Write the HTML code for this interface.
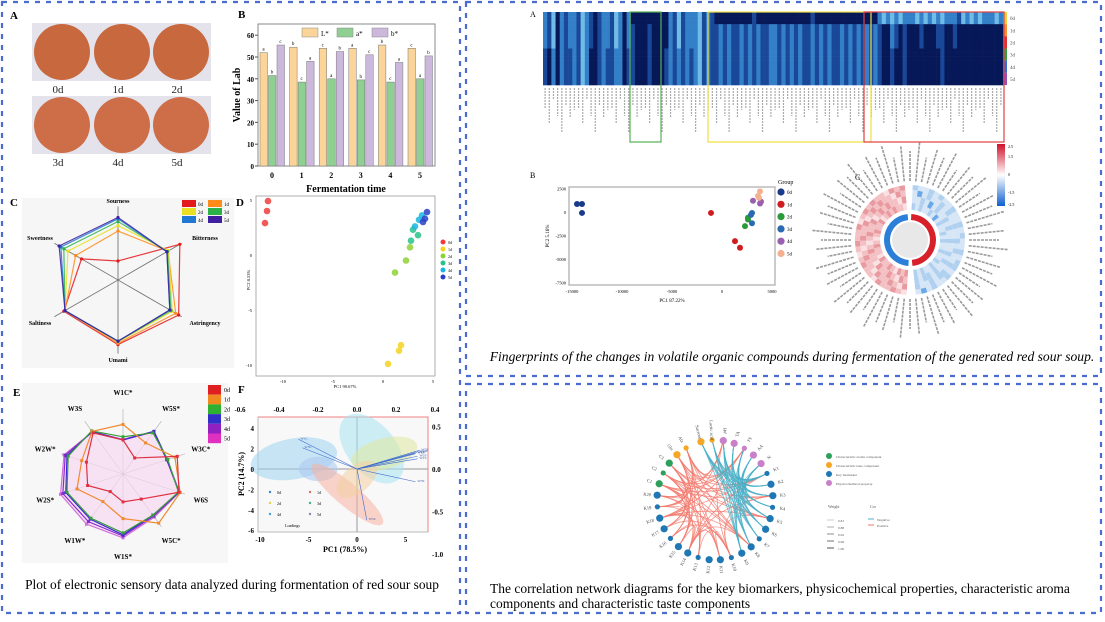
<!DOCTYPE html>
<html><head><meta charset="utf-8">
<style>
html,body{margin:0;padding:0;background:#fff;}
svg{display:block;font-family:"Liberation Serif",serif;}
</style></head>
<body>
<svg id="fig" width="1105" height="622" viewBox="0 0 1105 622" xmlns="http://www.w3.org/2000/svg">
<rect x="0" y="0" width="1105" height="622" fill="#fff"/>
<g id="borders" fill="none" stroke="#4a6bd0" stroke-width="2.2" stroke-dasharray="5,6">
  <rect x="2" y="2" width="458" height="611"/>
  <rect x="466" y="2" width="635" height="374"/>
  <rect x="466" y="384" width="635" height="229"/>
</g>

<g>
  <text x="10" y="19" font-size="11" font-weight="bold">A</text>
  <rect x="32" y="23" width="179" height="58" fill="#e4e2ea"/>
  <rect x="32" y="96" width="179" height="58" fill="#e4e2ea"/>
  <g fill="#c7683f">
    <circle cx="62" cy="52" r="28"/><circle cx="122" cy="52" r="28"/><circle cx="181" cy="52" r="28"/>
    <circle cx="62" cy="125" r="28" fill="#cd6e48"/><circle cx="122" cy="125" r="28" fill="#cd6e48"/><circle cx="181" cy="125" r="28" fill="#cd6e48"/>
  </g>
  <g font-size="11" text-anchor="middle" fill="#222">
    <text x="58" y="93">0d</text><text x="118" y="93">1d</text><text x="177" y="93">2d</text>
    <text x="58" y="166">3d</text><text x="118" y="166">4d</text><text x="177" y="166">5d</text>
  </g>
</g>

<g id="panelB"></g>
<g id="panelC"></g>
<g id="panelD"></g>
<g id="panelE"></g>
<g id="panelF"></g>
<text x="232" y="589" font-size="13.4" text-anchor="middle">Plot of electronic sensory data analyzed during formentation of red sour soup</text>

<g id="heat"></g>
<g id="pcaR"></g>
<g id="circ"></g>
<text x="792" y="361" font-size="13.6" font-style="italic" text-anchor="middle">Fingerprints of the changes in volatile organic compounds during fermentation of the generated red sour soup.</text>

<g id="net"></g>
<text x="490" y="593" font-size="13.5">The correlation network diagrams for the key biomarkers, physicochemical properties, characteristic aroma</text>
<text x="490" y="608" font-size="13.5">components and characteristic taste components</text>
</svg>
<script>
const NS="http://www.w3.org/2000/svg";
function mk(tag,attrs,parent){const e=document.createElementNS(NS,tag);for(const k in attrs)e.setAttribute(k,attrs[k]);if(parent)parent.appendChild(e);return e;}
function txt(parent,x,y,s,size,extra){const t=mk('text',Object.assign({x:x,y:y,'font-size':size},extra||{}),parent);t.textContent=s;return t;}

/* ---------- Panel B: Lab bar chart ---------- */
const labDays=["0","1","2","3","4","5"];
const labL=[52,54.5,54,54,55.5,54];
const labA=[41.5,38.5,40,39.5,38.5,40];
const labB=[55.5,48,52.5,51,47.5,50.5];
const labTicks=[0,10,20,30,40,50,60];
(function(){
  const g=document.getElementById('panelB');
  const x0=258,x1=435,yB=166,yT=24;
  const ys=v=>yB-v*2.18;
  const xs=i=>272+i*29.6;
  txt(g,238,18,"B",11,{'font-weight':'bold'});
  mk('rect',{x:x0,y:yT,width:x1-x0,height:yB-yT,fill:'none',stroke:'#888','stroke-width':1},g);
  labTicks.forEach(t=>{txt(g,254,ys(t)+3,String(t),7,{'text-anchor':'end','font-weight':'bold'});mk('line',{x1:x0-3,x2:x0,y1:ys(t),y2:ys(t),stroke:'#555'},g);});
  const series=[[labL,'#fbd49a'],[labA,'#8fcf91'],[labB,'#cdb8dd']];
  labDays.forEach((d,i)=>{
    series.forEach((s,j)=>{
      const v=s[0][i];
      const r=mk('rect',{x:xs(i)-12+j*8.5,y:ys(v),width:7.5,height:yB-ys(v),fill:s[1],stroke:'#777','stroke-width':0.5},g);
      
      
      txt(g,xs(i)-8.5+j*8.5,ys(v)-2,['a','b','c'][(i+j)%3],5,{'text-anchor':'middle'});
    });
    txt(g,xs(i),178,d,8,{'text-anchor':'middle','font-weight':'bold'});
  });
  txt(g,346,192,"Fermentation time",10,{'text-anchor':'middle','font-weight':'bold'});
  txt(g,240,95,"Value of Lab",10,{'text-anchor':'middle','font-weight':'bold',transform:'rotate(-90 240 95)'});
  [['L*','#fbd49a',302],['a*','#8fcf91',337],['b*','#cdb8dd',372]].forEach(l=>{
    mk('rect',{x:l[2],y:28,width:16,height:9,fill:l[1],stroke:'#888','stroke-width':0.5},g);
    txt(g,l[2]+19,36,l[0],7);
  });
})();

/* ---------- Panel C: taste radar ---------- */
const tasteAxes=["Sourness","Bitterness","Astringency","Umami","Saltiness","Sweetness"];
const taste0d=[0.28,1.05,1.03,0.95,0.92,0.62];
const taste1d=[0.72,0.85,0.98,0.93,0.9,0.72];
const taste2d=[0.8,0.86,0.92,0.91,0.9,0.85];
const taste3d=[0.86,0.84,0.9,0.9,0.9,0.92];
const taste4d=[0.9,0.83,0.88,0.9,0.9,0.97];
const taste5d=[0.92,0.83,0.88,0.9,0.9,1.0];
(function(){
  const g=document.getElementById('panelC');
  const cx=118,cy=280,R=68;
  txt(g,10,206,"C",11,{'font-weight':'bold'});
  mk('rect',{x:22,y:198,width:212,height:170,fill:'#f6f6f6'},g);
  const pt=(k,f)=>{const a=-Math.PI/2+k*Math.PI/3;return [cx+R*f*Math.cos(a),cy+R*f*Math.sin(a)];};
  for(let k=0;k<6;k++){const p=pt(k,1.08),q=pt(k+3,1.08);mk('line',{x1:p[0],y1:p[1],x2:q[0],y2:q[1],stroke:'#777','stroke-width':0.7},g);}
  const labPos=[[118,203],[205,240],[205,325],[118,362],[40,325],[40,240]];
  tasteAxes.forEach((a,k)=>txt(g,labPos[k][0],labPos[k][1],a,6,{'text-anchor':'middle','font-weight':'bold'}));
  const sets=[[taste0d,'#e31a1c'],[taste1d,'#ff8c1a'],[taste2d,'#e8e020'],[taste3d,'#2bb34a'],[taste4d,'#1f78d1'],[taste5d,'#4020a0']];
  sets.forEach((s,j)=>{
    const pts=s[0].map((v,k)=>pt(k,v));
    const p=mk('polygon',{points:pts.map(p=>p.join(',')).join(' '),fill:'none',stroke:s[1],'stroke-width':1.2,opacity:0.85},g);
    
    
    pts.forEach(q=>mk('circle',{cx:q[0],cy:q[1],r:1.6,fill:s[1]},g));
  });
  const leg=[['0d','#e31a1c'],['1d','#ff8c1a'],['2d','#e8e020'],['3d','#2bb34a'],['4d','#1f78d1'],['5d','#4020a0']];
  leg.forEach((l,i)=>{const x=182+(i%2)*26,y=200+Math.floor(i/2)*8;mk('rect',{x:x,y:y,width:14,height:7,fill:l[1]},g);txt(g,x+16,y+6,l[0],5);});
})();

/* ---------- Panel D: taste PCA ---------- */
const dGroups=["0d","1d","2d","3d","4d","5d"];
const dColors=["#f03c3c","#f5d21e","#8fd132","#27c28a","#19b5e0","#2a40c8"];
const dPC1=[[-11.5,-11.6,-11.8],[1.8,1.6,0.5],[2.7,2.3,1.2],[3.5,2.8,3.0],[3.9,3.2,3.6],[4.4,4.2,4.0]];
const dPC2=[[4.9,4.0,2.9],[-8.2,-8.7,-9.9],[0.7,-0.5,-1.6],[1.8,1.3,2.3],[3.6,2.6,3.2],[3.9,3.3,3.0]];
(function(){
  const g=document.getElementById('panelD');
  const xs=v=>383+v*10, ys=v=>255-v*11;
  txt(g,236,206,"D",11,{'font-weight':'bold'});
  mk('rect',{x:256,y:196,width:179,height:180,fill:'none',stroke:'#999','stroke-width':0.8},g);
  [5,0,-5,-10].forEach(t=>txt(g,252,ys(t)+2,String(t),4.5,{'text-anchor':'end'}));
  [-10,-5,0,5].forEach(t=>txt(g,xs(t),383,String(t),4.5,{'text-anchor':'middle'}));
  txt(g,250,280,"PC2 8.53%",4.5,{'text-anchor':'middle',transform:'rotate(-90 250 280)'});
  txt(g,345,388,"PC1 90.67%",4.5,{'text-anchor':'middle'});
  dGroups.forEach((gr,i)=>{
    dPC1[i].forEach((v,j)=>{
      const c=mk('circle',{cx:xs(v),cy:ys(dPC2[i][j]),r:3.3,fill:dColors[i],opacity:0.85},g);
      
      
    });
    mk('circle',{cx:443,cy:242+i*7,r:2.5,fill:dColors[i]},g);
    txt(g,448,244+i*7,gr,4);
  });
})();

/* ---------- Panel E: e-nose radar ---------- */
const eAxes=["W1C*","W5S*","W3C*","W6S","W5C*","W1S*","W1W*","W2S*","W2W*","W3S"];
const e0d=[0.55,0.32,0.92,0.95,0.5,0.45,0.35,0.6,0.62,0.82];
const e1d=[0.8,0.62,0.88,0.97,0.98,0.72,0.55,0.78,0.7,0.85];
const e2d=[0.6,0.82,0.76,0.94,0.82,0.95,0.88,0.95,0.93,0.86];
const e3d=[0.55,0.85,0.75,0.95,0.82,0.98,0.9,0.97,0.95,0.85];
const e4d=[0.55,0.84,0.74,0.95,0.84,1.0,0.95,1.02,0.98,0.84];
const e5d=[0.56,0.85,0.75,0.96,0.86,1.03,1.0,1.06,1.0,0.84];
(function(){
  const g=document.getElementById('panelE');
  const cx=123,cy=474,R=62;
  txt(g,13,396,"E",11,{'font-weight':'bold'});
  mk('rect',{x:22,y:383,width:206,height:180,fill:'#f7f7f7'},g);
  const pt=(k,f)=>{const a=-Math.PI/2+k*Math.PI/5;return [cx+R*f*Math.cos(a),cy+R*f*Math.sin(a)];};
  for(let k=0;k<10;k++){const p=pt(k,1.05);mk('line',{x1:cx,y1:cy,x2:p[0],y2:p[1],stroke:'#aaa','stroke-width':0.6},g);
    const q=pt(k,1.32);txt(g,q[0],q[1]+3,eAxes[k],7,{'text-anchor':'middle','font-weight':'bold'});}
  const sets=[[e5d,'#d070d8'],[e4d,'#8a2ad0'],[e3d,'#3a2ad0'],[e2d,'#3aa03a'],[e1d,'#f08a30'],[e0d,'#e03040']];
  mk('polygon',{points:e5d.map((v,k)=>pt(k,v).join(',')).join(' '),fill:'#f6d9f1',opacity:0.7},g);
  sets.forEach((s,j)=>{
    const pts=s[0].map((v,k)=>pt(k,v));
    const p=mk('polygon',{points:pts.map(p=>p.join(',')).join(' '),fill:'none',stroke:s[1],'stroke-width':1.2},g);
    
    
    pts.forEach(q=>mk('rect',{x:q[0]-1.5,y:q[1]-1.5,width:3,height:3,fill:s[1]},g));
  });
  const cb=['#e02020','#f08a20','#30b030','#3030c8','#9020c0','#e030c0'];
  const cl=["0d","1d","2d","3d","4d","5d"];
  cb.forEach((c,i)=>{mk('rect',{x:208,y:385+i*9.7,width:13,height:9.7,fill:c},g);txt(g,224,392+i*9.7,cl[i],6);});
})();

/* ---------- Panel F: biplot ---------- */
const fLabels=["W1C","W5S","W3C","W6S","W5C","W1S","W1W","W2S","W2W","W3S"];
const fLoadX=[-0.3,0.32,-0.28,0.3,0.05,0.31,0.3,0.31,0.31,0.3];
const fLoadY=[0.35,0.22,0.25,0.18,-0.6,0.12,0.19,0.15,0.2,-0.15];
(function(){
  const g=document.getElementById('panelF');
  const xs=v=>357+v*9.7, ys=v=>469-v*10.2;
  const lx=v=>357+v*195, ly=v=>469-v*85;
  txt(g,238,393,"F",11,{'font-weight':'bold'});
  mk('rect',{x:258,y:417,width:170,height:115,fill:'#f8f8f8',stroke:'#aaa','stroke-width':0.8},g);
  mk('polyline',{points:'258,417 428,417 428,532',fill:'none',stroke:'#f08080','stroke-width':1},g);
  mk('line',{x1:258,x2:428,y1:ys(0),y2:ys(0),stroke:'#999'},g);
  mk('line',{x1:xs(0),x2:xs(0),y1:417,y2:532,stroke:'#999'},g);
  const ell=[[-6.5,1,4.5,2,-10,'#9fd4f0'],[-4,0,2,1.2,0,'#aac8f0'],[1.5,2,2.5,4,-40,'#a8e4f0'],[2.8,1.5,3.5,1.5,-15,'#e0e8a0'],[-1,-2.5,1.2,4.5,-50,'#f8b0a0'],[0,-1,2.5,1.3,-40,'#f4d0a0']];
  ell.forEach(e=>mk('ellipse',{cx:xs(e[0]),cy:ys(e[1]),rx:e[2]*9.7,ry:e[3]*10.2,transform:`rotate(${e[4]} ${xs(e[0])} ${ys(e[1])})`,fill:e[5],opacity:0.55},g));
  fLabels.forEach((l,i)=>{
    const a=mk('line',{x1:xs(0),y1:ys(0),x2:lx(fLoadX[i]),y2:ly(fLoadY[i]),stroke:'#3a6ad0','stroke-width':0.6},g);
    
    
    txt(g,lx(fLoadX[i])+2,ly(fLoadY[i]),l,3.5,{fill:'#3a5ab0'});
  });
  [-0.6,-0.4,-0.2,0.0,0.2,0.4].forEach(t=>txt(g,lx(t),412,t.toFixed(1),7,{'text-anchor':'middle','font-weight':'bold'}));
  [-10,-5,0,5].forEach(t=>txt(g,xs(t),542,String(t),7,{'text-anchor':'middle','font-weight':'bold'}));
  [4,2,0,-2,-4,-6].forEach(t=>txt(g,254,ys(t)+3,String(t),7,{'text-anchor':'end','font-weight':'bold'}));
  [[0.5,"0.5"],[0,"0.0"],[-0.5,"-0.5"],[-1,"-1.0"]].forEach(t=>txt(g,432,ly(t[0])+3,t[1],7,{'font-weight':'bold'}));
  txt(g,345,552,"PC1 (78.5%)",8,{'text-anchor':'middle','font-weight':'bold'});
  txt(g,244,474,"PC2 (14.7%)",8,{'text-anchor':'middle','font-weight':'bold',transform:'rotate(-90 244 474)'});
  ["0d","1d","2d","3d","4d","5d"].forEach((d,i)=>{const x=270+(i%2)*40,y=492+Math.floor(i/2)*11;mk('circle',{cx:x,cy:y,r:1.2,fill:['#4080d0','#e07060','#e8d040','#40b090','#40a0e0','#9080c0'][i]},g);txt(g,x+7,y+2,d,4);});
  txt(g,285,527,"Loadings",4);
})();

/* ---------- Heatmap (top right A) ---------- */
const heatGroup0=  "213021221321012213202"+"000000000"+"21312223121"+"000000000100000000000001000000000000000"+"232323222323232322213232322232";
const heatGroup12= "213021221321012213202"+"100010000"+"21312223121"+"121211212121122121212112121211212121212"+"100210100010001100100000000000";
const heatGroup345="102021121320012112201"+"100010001"+"21212123121"+"121211212121122121212112121211212121212"+"100100100000000100000000000000";
const heatRowsPerGroup=[3,3,3,3,3,3];
const heatGroupNames=["0d","1d","2d","3d","4d","5d"];
(function(){
  const g=document.getElementById('heat');
  const cmap={'0':'#071858','1':'#1a4898','2':'#3480c8','3':'#70bce8','4':'#e8e070'};
  const x0=543,x1=1003,y0=12,rowH=73/18;
  const n=heatGroup0.length, cw=(x1-x0)/n;
  txt(g,530,17,"A",8);
  const groupStr=[heatGroup0,heatGroup12,heatGroup12,heatGroup345,heatGroup345,heatGroup345];
  let r=0;
  groupStr.forEach((s,gi)=>{
    for(let k=0;k<heatRowsPerGroup[gi];k++){
      for(let c=0;c<n;c++){
        mk('rect',{x:x0+c*cw,y:y0+r*rowH,width:cw+0.3,height:rowH+0.3,fill:cmap[s[c]]},g);
      }
      r++;
    }
    txt(g,1010,y0+(gi*3+2)*rowH,heatGroupNames[gi],5,{fill:'#555'});
    mk('rect',{x:1004,y:y0+gi*3*rowH,width:3,height:3*rowH,fill:['#f0d040','#f09030','#e03030','#30a040','#3070d0','#9050c0'][gi]},g);
  });
  for(let c=0;c<n;c+=1){
    const len=[20,35,12,28,45,18,30,22][c%8];
    mk('line',{x1:x0+c*cw+cw/2,x2:x0+c*cw+cw/2,y1:88,y2:88+len,stroke:'#aaa','stroke-width':1.2,'stroke-dasharray':'2,1'},g);
  }
  mk('rect',{x:630,y:12,width:31,height:130,fill:'none',stroke:'#55b055','stroke-width':1.2},g);
  mk('rect',{x:708,y:12,width:163,height:130,fill:'none',stroke:'#f0e040','stroke-width':1.2},g);
  mk('rect',{x:864,y:12,width:140,height:130,fill:'none',stroke:'#e04040','stroke-width':1.2},g);
})();

/* ---------- PCA B (top right) ---------- */
const vGroups=["0d","1d","2d","3d","4d","5d"];
const vColors=["#1a3a8a","#d01c20","#2a9a3a","#2a6ab0","#9a60b0","#f5b090"];
const vPC1=[[-14500,-14000,-14000],[-1100,1300,1800],[2300,2600,2600],[3000,3000,2900],[3100,3900,3800],[3800,3600,3700]];
const vPC2=[[850,850,-100],[-100,-3100,-3800],[-1500,-600,-800],[-100,-1200,-300],[1200,1100,900],[2200,1700,1500]];
(function(){
  const g=document.getElementById('pcaR');
  const xs=v=>722+v*0.01, ys=v=>212-v*0.0094;
  txt(g,530,178,"B",8);
  mk('rect',{x:569,y:187,width:206,height:98,fill:'none',stroke:'#999','stroke-width':1},g);
  [-15000,-10000,-5000,0,5000].forEach(t=>txt(g,xs(t),293,String(t),4.5,{'text-anchor':'middle'}));
  [2500,0,-2500,-5000,-7500].forEach(t=>txt(g,566,ys(t)+2,String(t),4.5,{'text-anchor':'end'}));
  txt(g,672,302,"PC1 87.22%",5,{'text-anchor':'middle'});
  txt(g,549,236,"PC2 5.16%",5,{'text-anchor':'middle',transform:'rotate(-90 549 236)'});
  txt(g,778,184,"Group",6);
  vGroups.forEach((gr,i)=>{
    vPC1[i].forEach((v,j)=>{
      const c=mk('circle',{cx:xs(v),cy:ys(vPC2[i][j]),r:3,fill:vColors[i]},g);
      
      
    });
    mk('circle',{cx:781,cy:192+i*12.3,r:3.6,fill:vColors[i]},g);
    txt(g,787,194+i*12.3,gr,5);
  });
})();

/* ---------- Circular heatmap C ---------- */
const circLeft=[3,2,3,1,2,3,2,2,3,1,2,2,3,2,1,2,3,2,2,3,1,2,3,2,3,2,2,1];
const circRight=[-2,-1,-2,-1,-1,-2,-1,-3,-1,-2,-1,-1,-2,-1,-2,-1,-1,-2,-1,-1,-2,-1,-2,-1,-1,-2,-1,-2];
(function(){
  const g=document.getElementById('circ');
  const cx=910,cy=240,r0=28,r1=55;
  txt(g,855,180,"C",8);
  const col=v=>({3:'#e89aa0',2:'#f3c0c4',1:'#fae0e2','-1':'#d6e6f6','-2':'#b0d0f0','-3':'#6aa8e8'})[v];
  const arc=(a0,a1,ra,rb,fill)=>{
    const p=(a,r)=>[cx+r*Math.sin(a),cy-r*Math.cos(a)];
    const A=p(a0,rb),B=p(a1,rb),C=p(a1,ra),D=p(a0,ra);
    return mk('path',{d:`M${A} A${rb},${rb} 0 0 1 ${B} L${C} A${ra},${ra} 0 0 0 ${D}Z`,fill:fill},g);
  };
  const n=circLeft.length, span=Math.PI*0.95;
  const rings=[r0+2,r0+9,r0+16,r0+22,r0+27,r1];
  for(let i=0;i<n;i++){
    const a0=Math.PI*1.02+i*span/n, a1=a0+span/n;
    for(let k=0;k<rings.length-1;k++) arc(a0,a1,rings[k],rings[k+1],col(circLeft[(i+k)%n]));
    const b0=0.05+i*span/n,b1=b0+span/n;
    for(let k=0;k<rings.length-1;k++) arc(b0,b1,rings[k],rings[k+1],col(circRight[(i+k*3)%n]));
  }
  arc(Math.PI*1.02,Math.PI*1.97,20,26,'#2b7fd8');
  arc(0.05,Math.PI*0.97,20,26,'#d8202a');
  mk('circle',{cx:cx,cy:cy,r:18,fill:'#e8e8e8'},g);
  for(let i=0;i<64;i++){
    const a=i*2*Math.PI/64;
    const len=[30,40,25,35][i%4];
    mk('line',{x1:cx+(r1+4)*Math.sin(a),y1:cy-(r1+4)*Math.cos(a),x2:cx+(r1+4+len)*Math.sin(a),y2:cy-(r1+4+len)*Math.cos(a),stroke:'#999','stroke-width':1.6,'stroke-dasharray':'3,1'},g);
  }
  const grd=mk('linearGradient',{id:'cbar',x1:0,y1:0,x2:0,y2:1},g);
  [['0','#d0102a'],['0.5','#ffffff'],['1','#1060d0']].forEach(s=>mk('stop',{offset:s[0],'stop-color':s[1]},grd));
  mk('rect',{x:997,y:144,width:8,height:62,fill:'url(#cbar)'},g);
  [['2.5',148],['1.5',158],['0',176],['-1.5',194],['-2.5',206]].forEach(t=>txt(g,1008,t[1],t[0],4));
})();

/* ---------- Correlation network ---------- */
const netNodeTypes=["o","o","p","p","p","p","p","k","k","k","k","k","k","k","k","k","k","k","k","k","k","k","k","k","k","k","k","g","g","g","o","o"];
const netNodeLabels=["Sucrose","Lactic acid","pH","TA","TS","AA","N","K1","K2","K3","K4","K5","K6","K7","K8","K9","K10","K11","K12","K13","K14","K15","K16","K17","K18","K19","K20","C1","C2","C3","Glu","Ala"];
const netNegSources=[0,1,2,3,4,5,6];
const netNegTargets=[7,8,9,10,11,12,13,14,15];
const netPosSources=[27,28,29,30,31,16,20,24];
const netPosTargets=[7,9,11,14,17,19,21,22,23,25,26,2,4];
(function(){
  const g=document.getElementById('net');
  const cx=715,cy=500,rx=58,ry=60;
  const colors={o:'#f5a623',p:'#c880c8',k:'#1f78b4',g:'#2ca05a'};
  const n=netNodeTypes.length;
  const pos=i=>{const a=(-14+i*11.1)*Math.PI/180;return [cx+rx*Math.sin(a),cy-ry*Math.cos(a),a];};
  netPosSources.forEach((s,si)=>netPosTargets.forEach((t,ti)=>{if(s===t||(si+ti)%3===2)return;const p=pos(s),q=pos(t);mk('path',{d:`M${p[0]},${p[1]} Q${cx-8},${cy+4} ${q[0]},${q[1]}`,fill:'none',stroke:'#f27a6e','stroke-width':0.8,opacity:0.8},g);}));
  netNegSources.forEach((s,si)=>netNegTargets.forEach((t,ti)=>{if((si+ti)%4===3)return;const p=pos(s),q=pos(t);mk('path',{d:`M${p[0]},${p[1]} Q${cx+10},${cy-5} ${q[0]},${q[1]}`,fill:'none',stroke:'#4ab0c8','stroke-width':0.8,opacity:0.85},g);}));
  for(let i=0;i<n;i++){
    const p=pos(i);
    const c=mk('circle',{cx:p[0],cy:p[1],r:(i%3===1)?2.6:3.6,fill:colors[netNodeTypes[i]]},g);
    
    
    const lx=cx+(rx+10)*Math.sin(p[2]), ly=cy-(ry+10)*Math.cos(p[2]);
    const deg=p[2]*180/Math.PI;
    txt(g,lx,ly+1.5,netNodeLabels[i],4.5,{'text-anchor':'middle',fill:'#444',transform:`rotate(${(Math.sin(p[2])>0?deg-90:deg+90)} ${lx} ${ly})`});
  }
  const leg=[['Characteristic aroma component','#2ca05a'],['Characteristic taste component','#f5a623'],['Key biomarker','#1f78b4'],['Physicochemical property','#c880c8']];
  leg.forEach((l,i)=>{mk('circle',{cx:829,cy:456+i*9,r:3,fill:l[1]},g);txt(g,836,458+i*9,l[0],3.5,{fill:'#555'});});
  txt(g,828,508,"Weight",4,{fill:'#555'});txt(g,870,508,"Cor",4,{fill:'#555'});
  ["0.81","0.88","0.92","0.96","1.00"].forEach((w,i)=>{mk('line',{x1:827,x2:834,y1:520+i*7,y2:520+i*7,stroke:'#999','stroke-width':0.5+i*0.3},g);txt(g,838,522+i*7,w,3.5,{fill:'#555'});});
  mk('line',{x1:868,x2:874,y1:519,y2:519,stroke:'#4ab0c8'},g);txt(g,877,521,"Negative",3.5,{fill:'#555'});
  mk('line',{x1:868,x2:874,y1:525,y2:525,stroke:'#f27a6e'},g);txt(g,877,527,"Positive",3.5,{fill:'#555'});
})();
</script>
</body></html>
